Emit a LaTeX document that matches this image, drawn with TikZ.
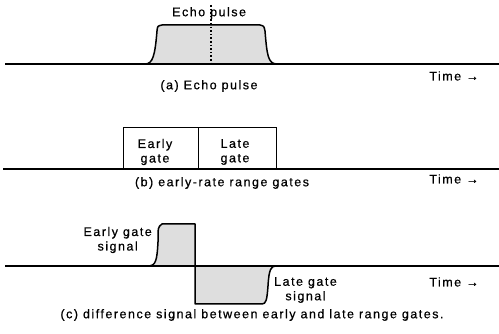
\documentclass[tikz,border=0pt]{standalone}
\usepackage{fontspec}
\setmainfont{Liberation Sans}[LetterSpace=12, FakeBold=0.6]
\begin{document}
\begin{tikzpicture}[x=1pt,y=-1pt,
  lbl/.style={font=\fontsize{12.5}{14.5}\selectfont, inner sep=0pt},
  axisline/.style={line width=1.4pt},
  trace/.style={line width=1.5pt, line join=round},
  stipple/.style={fill=black!13}]
\useasboundingbox (0,0) rectangle (499,334);

% ---- (a) echo pulse
\fill[stipple] (145,64) .. controls (153,64) and (155,55) .. (157,31)
  .. controls (157.5,26) .. (162,25) -- (260,25)
  .. controls (264,26) .. (265,31) .. controls (267,55) and (268,64) .. (277,64) -- cycle;
\draw[trace] (145,64) .. controls (153,64) and (155,55) .. (157,31)
  .. controls (157.5,26) .. (162,25) -- (260,25)
  .. controls (264,26) .. (265,31) .. controls (267,55) and (268,64) .. (277,64);
\coordinate (a0) at (5,64);
\coordinate (a1) at (499,64);
\draw[axisline] (a0) -- (a1);
\node[lbl, anchor=west] (echo) at (172,13) {Echo pulse};
\coordinate (mtop) at (211,5);
\coordinate (mbot) at (211,63);
\draw[line width=1.6pt, dotted] (mtop) -- (mbot);
\node[lbl] (capa) at (209,86) {(a) Echo pulse};
\node[lbl] (timea) at (454,76) {Time →};

% ---- (b) range gates
\node[draw, line width=1.3pt, minimum width=75pt, minimum height=42pt,
  anchor=north west, inner sep=0pt] (early) at (123,127) {};
\node[draw, line width=1.3pt, minimum width=78pt, minimum height=42pt,
  anchor=north west, inner sep=0pt] (late) at (198,127) {};
\node[lbl, align=center] (earlyt) at (155,152) {Early\\gate};
\node[lbl, align=center] (latet) at (235,152) {Late\\gate};
\coordinate (b0) at (3,169);
\coordinate (b1) at (499,169);
\draw[axisline] (b0) -- (b1);
\node[lbl] (capb) at (222,183) {(b) early-rate range gates};
\node[lbl] (timeb) at (454,179) {Time →};

% ---- (c) difference signal
\fill[stipple] (148,266) .. controls (156,266) and (157,260) .. (158,242)
  .. controls (158,227) .. (162,224) -- (195,224) -- (195,266) -- cycle;
\fill[stipple] (195,266) -- (195,304) -- (262,304)
  .. controls (266,304) and (267,300) .. (268,286)
  .. controls (269,269) and (271,266) .. (276,266) -- cycle;
\draw[trace] (148,266) .. controls (156,266) and (157,260) .. (158,242)
  .. controls (158,227) .. (162,224) -- (195,224) -- (195,304) -- (262,304)
  .. controls (266,304) and (267,300) .. (268,286)
  .. controls (269,269) and (271,266) .. (276,266);
\coordinate (c0) at (5,266);
\coordinate (c1) at (499,266);
\draw[axisline] (c0) -- (c1);
\node[lbl, align=center, anchor=east] (earlys) at (152,240) {Early gate\\signal};
\node[lbl, align=center, anchor=west] (lates) at (274,290) {Late gate\\signal};
\node[lbl] (capc) at (252,315) {(c) difference signal between early and late range gates.};
\node[lbl] (timec) at (454,282) {Time →};
\end{tikzpicture}
\end{document}
